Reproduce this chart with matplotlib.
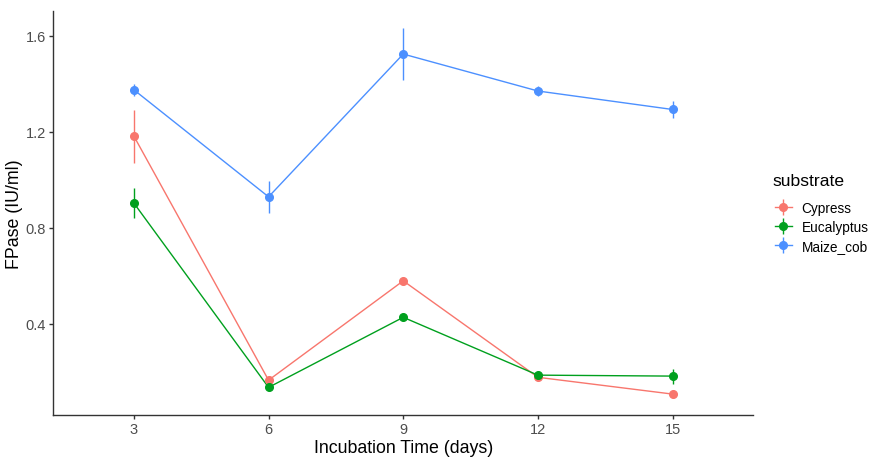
import matplotlib.pyplot as plt
from matplotlib.lines import Line2D

plt.rcParams["font.family"] = ["Liberation Sans", "DejaVu Sans"]

# Data
days = ["3", "6", "9", "12", "15"]
substrates = ["Cypress", "Eucalyptus", "Maize_cob"]
cypress = [1.182, 0.165, 0.579, 0.177, 0.107]
cypress_err = [0.11, 0.01, 0.01, 0.012, 0.01]
eucalyptus = [0.903, 0.135, 0.427, 0.186, 0.182]
eucalyptus_err = [0.063, 0.01, 0.008, 0.012, 0.031]
maize_cob = [1.375, 0.929, 1.524, 1.370, 1.293]
maize_cob_err = [0.025, 0.067, 0.107, 0.022, 0.037]

values = [cypress, eucalyptus, maize_cob]
errors = [cypress_err, eucalyptus_err, maize_cob_err]
colors = ["#F8766D", "#00A01E", "#4C90FF"]

fig = plt.figure(figsize=(8.7, 4.6), dpi=100)
ax = fig.add_axes([0.061, 0.0957, 0.805, 0.878])

x = list(range(len(days)))
handles = []
for name, y, e, c in zip(substrates, values, errors, colors):
    ax.plot(x, y, color=c, lw=1.0, zorder=2)
    ax.errorbar(x, y, yerr=e, fmt="o", color=c, ms=5.5, elinewidth=1.0,
                capsize=0, zorder=3)
    # legend key: point + horizontal line + vertical line
    hline = Line2D([], [], color=c, lw=1.0)
    vpt = Line2D([], [], color=c, marker="o", ms=5.5, lw=0)
    vbar = Line2D([], [], color=c, marker="|", ms=12, mew=1.0, lw=0)
    handles.append((hline, vbar, vpt))

ax.set_xlim(-0.6, len(days) - 1 + 0.6)
ax.set_ylim(0.02, 1.703)
ax.set_xticks(x)
ax.set_xticklabels(days)
ax.set_yticks([0.4, 0.8, 1.2, 1.6])
ax.set_yticklabels(["0.4", "0.8", "1.2", "1.6"])

for s in ["top", "right"]:
    ax.spines[s].set_visible(False)
for s in ["left", "bottom"]:
    ax.spines[s].set_color("#333333")
    ax.spines[s].set_linewidth(1.0)
ax.tick_params(colors="#4D4D4D", labelsize=10.5, length=3, width=1.0, pad=2)
ax.tick_params(axis="both", color="#333333")

ax.set_xlabel("Incubation Time (days)", fontsize=12.8, labelpad=2.5)
ax.set_ylabel("FPase (IU/ml)", fontsize=12.8, labelpad=2)

fig.text(773 / 870, 1 - 182 / 460, "substrate", fontsize=12.6,
         ha="left", va="center")
leg = fig.legend(handles=handles, labels=substrates,
                 loc="upper left", bbox_to_anchor=(0.891, 0.561),
                 frameon=False, fontsize=9.8,
                 handlelength=1.2, handletextpad=0.73, labelspacing=0.36,
                 borderaxespad=0, borderpad=0)

fig.savefig("out.png", dpi=100)
